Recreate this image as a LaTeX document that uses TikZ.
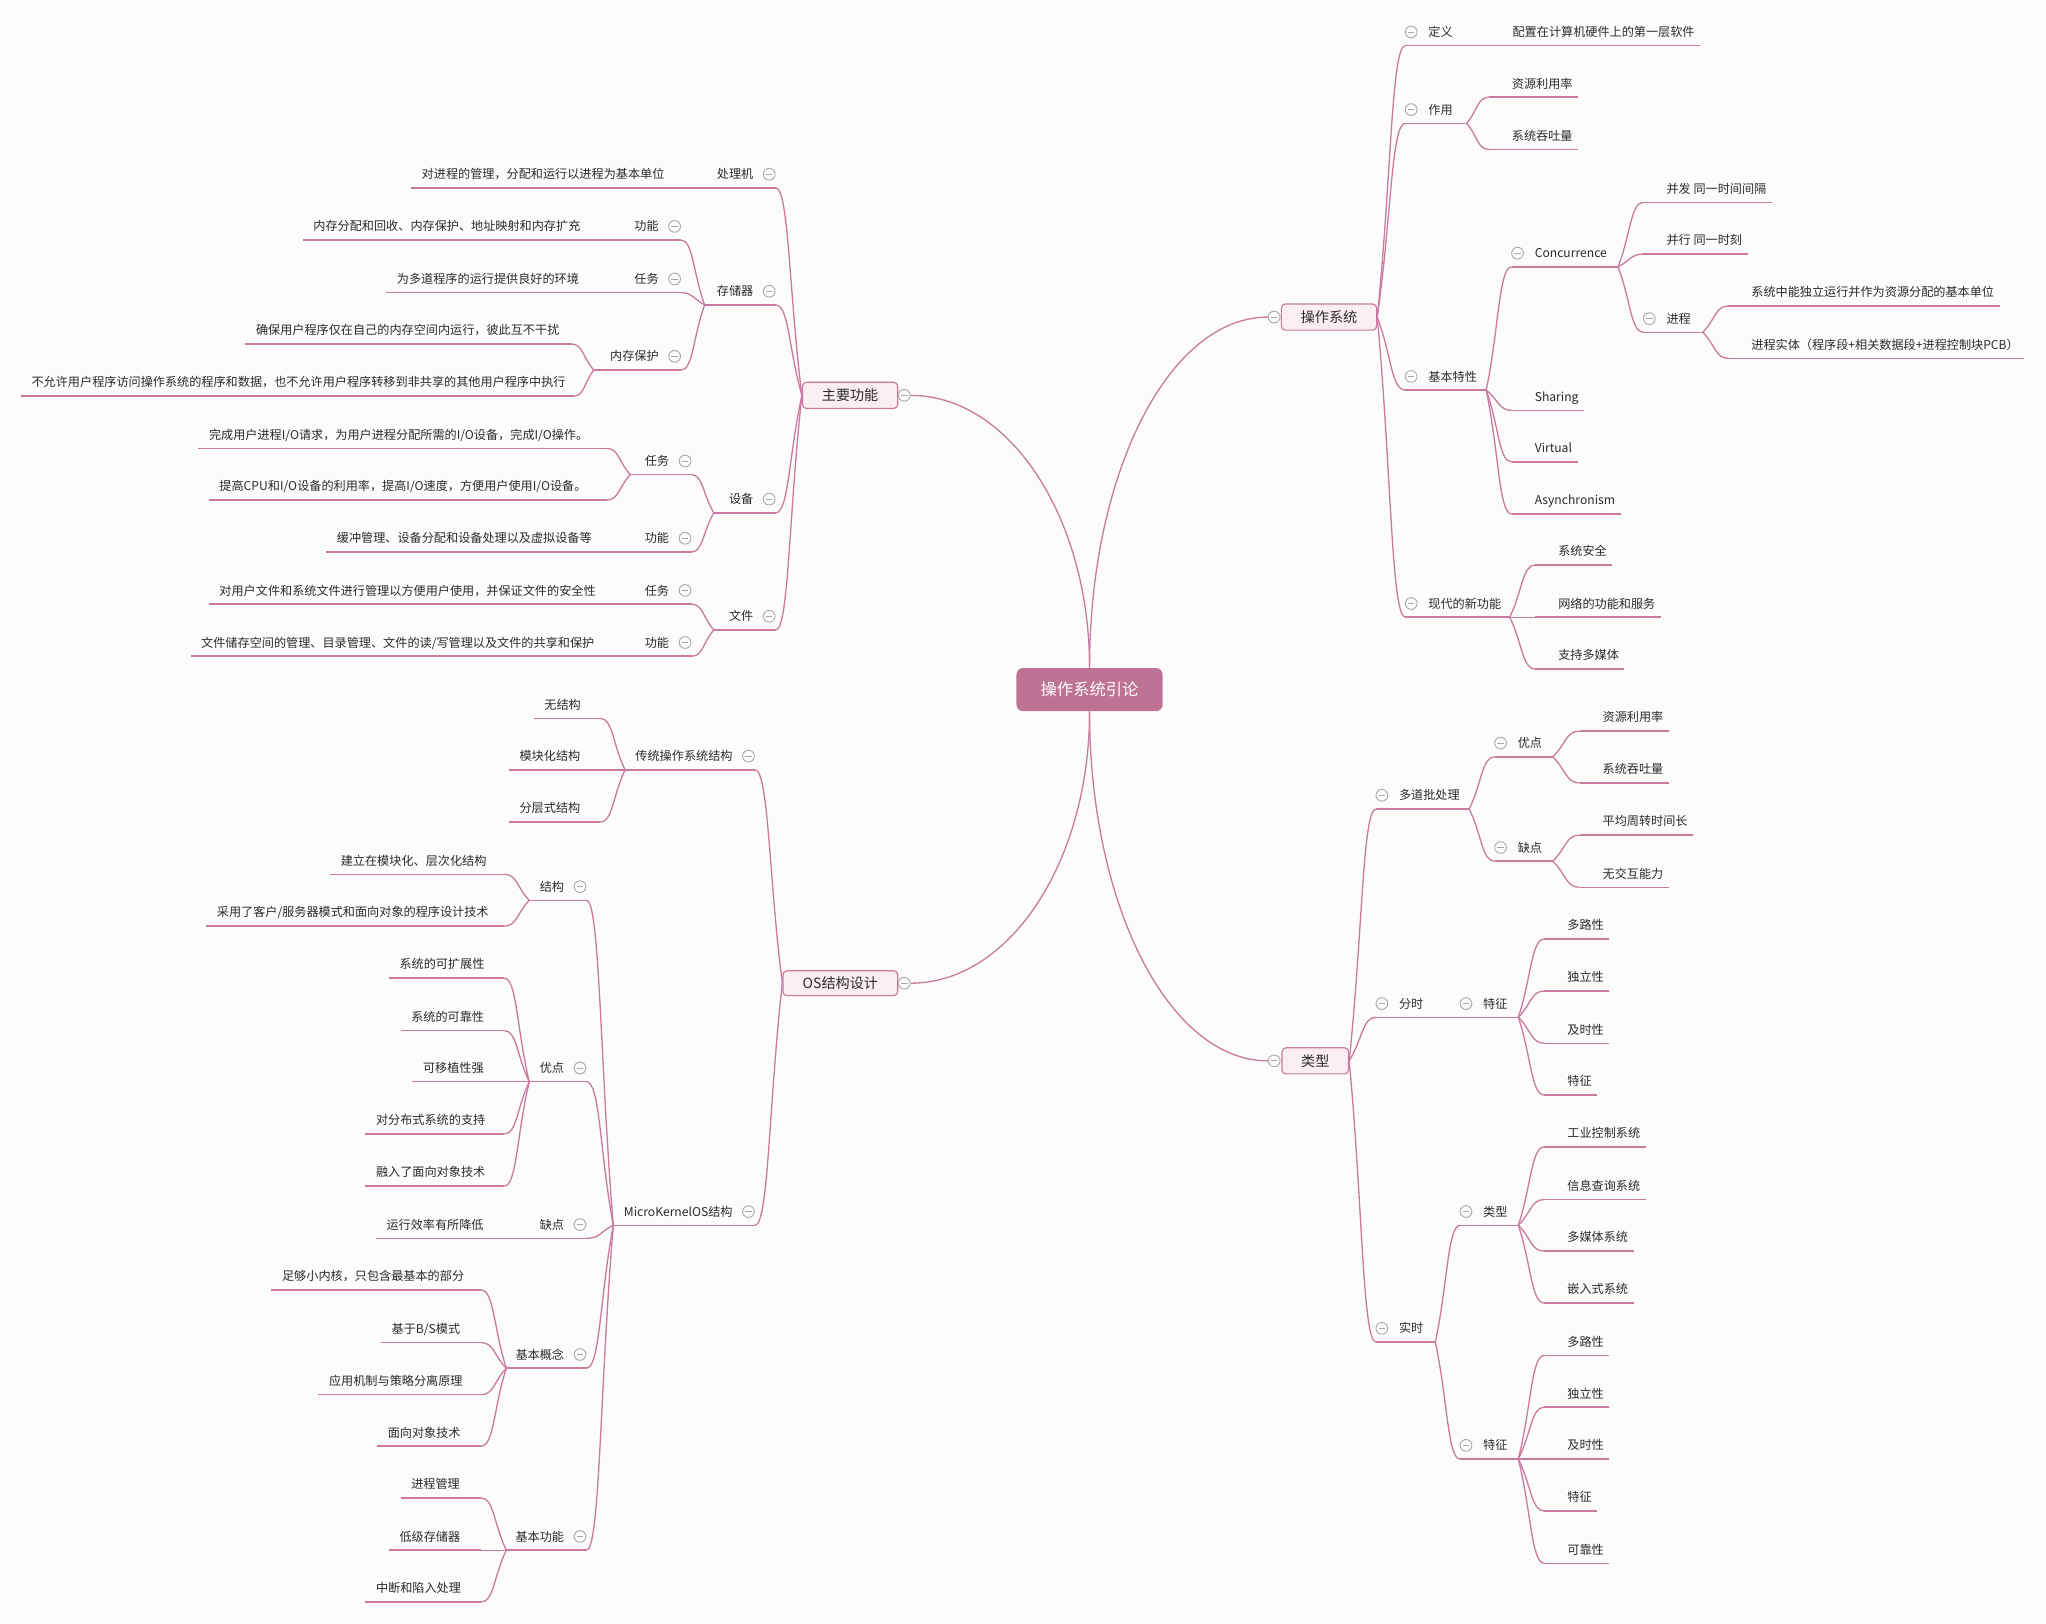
\documentclass[tikz,border=0pt]{standalone}
\usepackage{fontspec}
\setmainfont{Noto Sans CJK SC}
\usetikzlibrary{calc}
\pgfdeclarelayer{bgl}
\pgfdeclarelayer{lines}
\pgfsetlayers{bgl,lines,main}
\definecolor{lnk}{HTML}{C97A9E}
\definecolor{ctrc}{HTML}{BF7394}
\definecolor{bxc}{HTML}{FAEEF3}
\definecolor{bgc}{HTML}{FCFCFC}
\definecolor{txc}{HTML}{2A2A2A}
\definecolor{cgc}{HTML}{A8A8A8}
\tikzset{
 txt/.style={font=\fontsize{9.3}{11}\selectfont, text=txc, inner sep=0pt},
 ul/.style={draw=lnk, line width=1.1pt},
 link/.style={draw=lnk, line width=1pt},
 fold/.style={circle, draw=cgc, fill=bgc, line width=0.7pt, minimum size=9pt, inner sep=0pt,
   path picture={\draw[cgc, line width=0.7pt] ([xshift=-2.5pt]path picture bounding box.center) -- ([xshift=2.5pt]path picture bounding box.center);}},
 topic/.style={draw=lnk, fill=bxc, rounded corners=3pt, line width=0.9pt, font=\fontsize{10.8}{12}\selectfont, text=txc, inner sep=0pt},
 ctrbox/.style={fill=ctrc, rounded corners=5pt, font=\fontsize{12.5}{14}\selectfont, text=white, inner sep=0pt, minimum width=112pt, minimum height=33pt},
}
% connector
\newcommand\conn[2]{%
 \begin{pgfonlayer}{lines}
 \path ($(#1)!0.5!(#2)$) coordinate (qq);
 \draw[link] (#1) .. controls (qq) and (qq |- #2) .. (#2);
 \end{pgfonlayer}}
% right parent: name, xin, xout, yu, text
\newcommand\RP[5]{%
 \coordinate (#1-in) at (#2,#4);
 \coordinate (#1-out) at (#3,#4);
 \begin{pgfonlayer}{lines}\draw[ul] (#1-in) -- (#1-out);\end{pgfonlayer}
 \node[txt, anchor=base west] (#1) at (#2+17.5,#4-7) {#5};
 \node[fold] (#1-f) at (#2+4.5,#4-10.5) {};}
% right leaf: name, xin, yu, text
\newcommand\RL[4]{%
 \coordinate (#1-in) at (#2,#3);
 \node[txt, anchor=base west] (#1) at (#2+17.5,#3-7) {#4};
 \coordinate (#1-out) at ([xshift=4pt]#1.east |- #1-in);
 \begin{pgfonlayer}{lines}\draw[ul] (#1-in) -- (#1-out);\end{pgfonlayer}}
% left parent: name, xin, xout, yu, text
\newcommand\LP[5]{%
 \coordinate (#1-in) at (#2,#4);
 \coordinate (#1-out) at (#3,#4);
 \begin{pgfonlayer}{lines}\draw[ul] (#1-in) -- (#1-out);\end{pgfonlayer}
 \node[txt, anchor=base east] (#1) at (#2-17,#4-7) {#5};
 \node[fold] (#1-f) at (#2-5,#4-10.5) {};}
% left leaf: name, xin, yu, textleft, text
\newcommand\LL[5]{%
 \coordinate (#1-in) at (#2,#3);
 \node[txt, anchor=base west] (#1) at (#4,#3-7) {#5};
 \coordinate (#1-out) at ([xshift=-8pt]#1.west |- #1-in);
 \begin{pgfonlayer}{lines}\draw[ul] (#1-in) -- (#1-out);\end{pgfonlayer}}

\begin{document}
\begin{tikzpicture}[x=1pt,y=-1pt]
\begin{pgfonlayer}{bgl}
\fill[bgc] (0,0) rectangle (1568,1244);
\end{pgfonlayer}
\useasboundingbox (0,0) rectangle (1568,1244);

% ---------- central and main topics ----------
\node[ctrbox] (ctr) at (835,528.5) {操作系统引论};
\node[topic, minimum width=73pt, minimum height=20pt] (os) at (1018.5,243) {操作系统};
\node[topic, minimum width=51pt, minimum height=20pt] (lxb) at (1008,813) {类型};
\node[topic, minimum width=73pt, minimum height=20pt] (mf) at (651.5,303) {主要功能};
\node[topic, minimum width=88pt, minimum height=19pt] (osd) at (644,753.5) {OS结构设计};
\node[fold] (os-f) at (976.5,243) {};
\node[fold] (lxb-f) at (976.5,813) {};
\node[fold] (mf-f) at (693,303) {};
\node[fold] (osd-f) at (693,753.5) {};

\begin{pgfonlayer}{lines}
\draw[link] (ctr.north) .. controls +(0,-149) and +(-76,0) .. (os-f.west);
\draw[link] (ctr.north) .. controls +(0,-115) and +(76,0) .. (mf-f.east);
\draw[link] (ctr.south) .. controls +(0,115) and +(76,0) .. (osd-f.east);
\draw[link] (ctr.south) .. controls +(0,148) and +(-76,0) .. (lxb-f.west);
\end{pgfonlayer}

% ---------- 操作系统 ----------
\RP{def}{1077}{1141.5}{35}{定义}
\RL{def1}{1141.5}{35}{配置在计算机硬件上的第一层软件}
\RP{zy}{1077}{1124}{94.5}{作用}
\RL{zy1}{1141}{74.5}{资源利用率}
\RL{zy2}{1141}{114.5}{系统吞吐量}
\RP{jb}{1077}{1139}{299}{基本特性}
\RP{cc}{1158.5}{1240}{204.5}{Concurrence}
\RL{cc1}{1259.5}{155}{并发 同一时间间隔}
\RL{cc2}{1259.5}{194.7}{并行 同一时刻}
\RP{jc}{1259.5}{1305}{254.7}{进程}
\RL{jc1}{1324.5}{234.5}{系统中能独立运行并作为资源分配的基本单位}
\RL{jc2}{1324.5}{274.6}{进程实体（程序段+相关数据段+进程控制块PCB）}
\RL{sh}{1158.5}{314.5}{Sharing}
\RL{vi}{1158.5}{354}{Virtual}
\RL{asy}{1158.5}{394}{Asynchronism}
\RP{xd}{1077}{1157}{473}{现代的新功能}
\RL{xd1}{1176.5}{433}{系统安全}
\RL{xd2}{1176.5}{473}{网络的功能和服务}
\RL{xd3}{1176.5}{512.8}{支持多媒体}

\conn{os.east}{def-in}
\conn{os.east}{zy-in}
\conn{os.east}{jb-in}
\conn{os.east}{xd-in}
\conn{def-out}{def1-in}
\conn{zy-out}{zy1-in}
\conn{zy-out}{zy2-in}
\conn{jb-out}{cc-in}
\conn{jb-out}{sh-in}
\conn{jb-out}{vi-in}
\conn{jb-out}{asy-in}
\conn{cc-out}{cc1-in}
\conn{cc-out}{cc2-in}
\conn{cc-out}{jc-in}
\conn{jc-out}{jc1-in}
\conn{jc-out}{jc2-in}
\conn{xd-out}{xd1-in}
\conn{xd-out}{xd2-in}
\conn{xd-out}{xd3-in}

% ---------- 类型 ----------
\RP{dd}{1054.5}{1126}{620}{多道批处理}
\RP{yd}{1145.5}{1190}{580}{优点}
\RL{yd1}{1210.5}{560.3}{资源利用率}
\RL{yd2}{1210.5}{600}{系统吞吐量}
\RP{qd}{1145.5}{1190}{660}{缺点}
\RL{qd1}{1210.5}{640}{平均周转时间长}
\RL{qd2}{1210.5}{680}{无交互能力}
\RP{fs}{1054.5}{1119}{779.6}{分时}
\RP{fst}{1119}{1163.6}{779.6}{特征}
\RL{fs1}{1183.5}{719.7}{多路性}
\RL{fs2}{1183.5}{759.5}{独立性}
\RL{fs3}{1183.5}{799.5}{及时性}
\RL{fs4}{1183.5}{839.2}{特征}
\RP{ss}{1054.5}{1100}{1028.5}{实时}
\RP{sslx}{1119}{1163.6}{939}{类型}
\RL{lx1}{1183.5}{879}{工业控制系统}
\RL{lx2}{1183.5}{919.3}{信息查询系统}
\RL{lx3}{1183.5}{958.8}{多媒体系统}
\RL{lx4}{1183.5}{998.6}{嵌入式系统}
\RP{sstz}{1119}{1163.6}{1118.2}{特征}
\RL{tz1}{1183.5}{1038.7}{多路性}
\RL{tz2}{1183.5}{1078.4}{独立性}
\RL{tz3}{1183.5}{1118.2}{及时性}
\RL{tz4}{1183.5}{1158}{特征}
\RL{tz5}{1183.5}{1198}{可靠性}

\conn{lxb.east}{dd-in}
\conn{lxb.east}{fs-in}
\conn{lxb.east}{ss-in}
\conn{dd-out}{yd-in}
\conn{dd-out}{qd-in}
\conn{yd-out}{yd1-in}
\conn{yd-out}{yd2-in}
\conn{qd-out}{qd1-in}
\conn{qd-out}{qd2-in}
\conn{fs-out}{fst-in}
\conn{fst-out}{fs1-in}
\conn{fst-out}{fs2-in}
\conn{fst-out}{fs3-in}
\conn{fst-out}{fs4-in}
\conn{ss-out}{sslx-in}
\conn{ss-out}{sstz-in}
\conn{sslx-out}{lx1-in}
\conn{sslx-out}{lx2-in}
\conn{sslx-out}{lx3-in}
\conn{sslx-out}{lx4-in}
\conn{sstz-out}{tz1-in}
\conn{sstz-out}{tz2-in}
\conn{sstz-out}{tz3-in}
\conn{sstz-out}{tz4-in}
\conn{sstz-out}{tz5-in}

% ---------- 主要功能 ----------
\LP{clj}{594.5}{545}{144}{处理机}
\LL{clj1}{545}{144}{323}{对进程的管理，分配和运行以进程为基本单位}
\LP{ccq}{594.5}{540}{233.7}{存储器}
\LP{gn}{522}{480}{184}{功能}
\LL{gn1}{480}{184}{240}{内存分配和回收、内存保护、地址映射和内存扩充}
\LP{rw}{522}{480}{224.3}{任务}
\LL{rw1}{480}{224.3}{304}{为多道程序的运行提供良好的环境}
\LP{bh}{522}{455}{283.6}{内存保护}
\LL{bh1}{438}{263.7}{196}{确保用户程序仅在自己的内存空间内运行，彼此互不干扰}
\LL{bh2}{440}{303.5}{24}{不允许用户程序访问操作系统的程序和数据，也不允许用户程序转移到非共享的其他用户程序中执行}
\LP{sb}{594.5}{547}{393}{设备}
\LP{sbrw}{530}{483}{363.8}{任务}
\LL{sbrw1}{465}{343.6}{160}{完成用户进程I/O请求，为用户进程分配所需的I/O设备，完成I/O操作。}
\LL{sbrw2}{465}{383.2}{168}{提高CPU和I/O设备的利用率，提高I/O速度，方便用户使用I/O设备。}
\LP{sbgn}{530}{490}{423}{功能}
\LL{sbgn1}{490}{423}{258}{缓冲管理、设备分配和设备处理以及虚拟设备等}
\LP{wj}{594.5}{547}{482.8}{文件}
\LP{wjrw}{530}{490}{463}{任务}
\LL{wjrw1}{490}{463}{168}{对用户文件和系统文件进行管理以方便用户使用，并保证文件的安全性}
\LP{wjgn}{530}{490}{502.9}{功能}
\LL{wjgn1}{490}{502.9}{154}{文件储存空间的管理、目录管理、文件的读/写管理以及文件的共享和保护}

\conn{mf.west}{clj-in}
\conn{mf.west}{ccq-in}
\conn{mf.west}{sb-in}
\conn{mf.west}{wj-in}
\conn{clj-out}{clj1-in}
\conn{ccq-out}{gn-in}
\conn{ccq-out}{rw-in}
\conn{ccq-out}{bh-in}
\conn{gn-out}{gn1-in}
\conn{rw-out}{rw1-in}
\conn{bh-out}{bh1-in}
\conn{bh-out}{bh2-in}
\conn{sb-out}{sbrw-in}
\conn{sb-out}{sbgn-in}
\conn{sbrw-out}{sbrw1-in}
\conn{sbrw-out}{sbrw2-in}
\conn{sbgn-out}{sbgn1-in}
\conn{wj-out}{wjrw-in}
\conn{wj-out}{wjgn-in}
\conn{wjrw-out}{wjrw1-in}
\conn{wjgn-out}{wjgn1-in}

% ---------- OS结构设计 ----------
\LP{ct}{578.6}{479}{590}{传统操作系统结构}
\LL{ct1}{460}{550.5}{417}{无结构}
\LL{ct2}{460}{590}{398}{模块化结构}
\LL{ct3}{460}{630}{398}{分层式结构}
\LP{mk}{578.6}{470}{939}{MicroKernelOS结构}
\LP{jg}{449.5}{405.6}{690}{结构}
\LL{jg1}{386.5}{670}{261}{建立在模块化、层次化结构}
\LL{jg2}{386.5}{709.7}{166}{采用了客户/服务器模式和面向对象的程序设计技术}
\LP{mkyd}{449.5}{405.6}{829}{优点}
\LL{mkyd1}{386.5}{749.6}{306}{系统的可扩展性}
\LL{mkyd2}{386.5}{789.8}{315}{系统的可靠性}
\LL{mkyd3}{386.5}{829}{324}{可移植性强}
\LL{mkyd4}{386.5}{869}{288}{对分布式系统的支持}
\LL{mkyd5}{386.5}{909}{288}{融入了面向对象技术}
\LP{mkqd}{449.5}{400}{949}{缺点}
\LL{mkqd1}{400}{949}{296}{运行效率有所降低}
\LP{gnn}{449.5}{388}{1048.5}{基本概念}
\LL{gl1}{368.8}{988.6}{216}{足够小内核，只包含最基本的部分}
\LL{gl2}{368.8}{1029}{300}{基于B/S模式}
\LL{gl3}{368.8}{1068.8}{252}{应用机制与策略分离原理}
\LL{gl4}{368.8}{1108.3}{297}{面向对象技术}
\LP{jbgn}{449.5}{388}{1188}{基本功能}
\LL{jbgn1}{368.8}{1148}{315}{进程管理}
\LL{jbgn2}{368.8}{1188}{306}{低级存储器}
\LL{jbgn3}{368.8}{1227.7}{288}{中断和陷入处理}

\conn{osd.west}{ct-in}
\conn{osd.west}{mk-in}
\conn{ct-out}{ct1-in}
\conn{ct-out}{ct2-in}
\conn{ct-out}{ct3-in}
\conn{mk-out}{jg-in}
\conn{mk-out}{mkyd-in}
\conn{mk-out}{mkqd-in}
\conn{mk-out}{gnn-in}
\conn{mk-out}{jbgn-in}
\conn{jg-out}{jg1-in}
\conn{jg-out}{jg2-in}
\conn{mkyd-out}{mkyd1-in}
\conn{mkyd-out}{mkyd2-in}
\conn{mkyd-out}{mkyd3-in}
\conn{mkyd-out}{mkyd4-in}
\conn{mkyd-out}{mkyd5-in}
\conn{mkqd-out}{mkqd1-in}
\conn{gnn-out}{gl1-in}
\conn{gnn-out}{gl2-in}
\conn{gnn-out}{gl3-in}
\conn{gnn-out}{gl4-in}
\conn{jbgn-out}{jbgn1-in}
\conn{jbgn-out}{jbgn2-in}
\conn{jbgn-out}{jbgn3-in}
\end{tikzpicture}
\end{document}
